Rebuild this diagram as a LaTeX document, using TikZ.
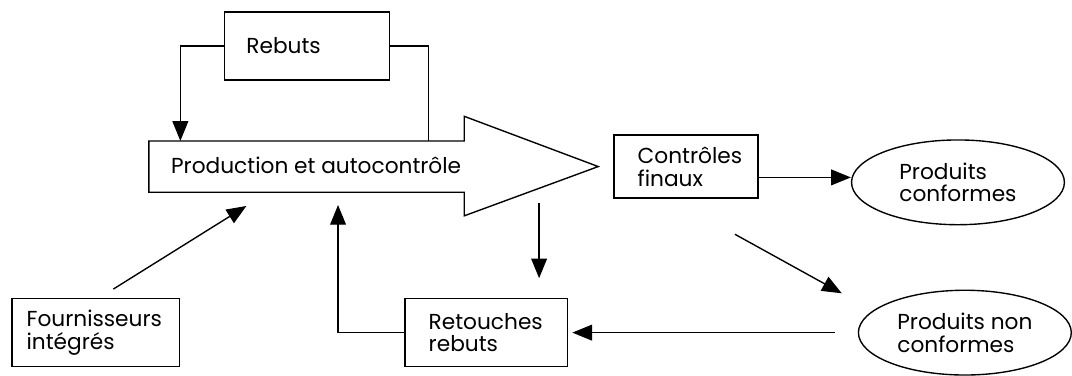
\documentclass[tikz,border=0pt]{standalone}
\usepackage{fontspec}
\setmainfont{Poppins}
\usetikzlibrary{arrows.meta,shapes.geometric}

\begin{document}
\begin{tikzpicture}[x=0.5pt, y=-0.5pt, line width=0.7pt,
    every node/.style={font=\fontsize{11}{11.5}\selectfont},
    boite/.style={draw, align=left, inner xsep=12pt, inner ysep=0pt, minimum height=34.5pt},
    bulle/.style={draw, ellipse, align=left, inner sep=0pt, minimum width=108pt, minimum height=43pt},
    fleche/.style={-{Triangle[length=10pt, width=8pt]}}]
  \path[fill=white] (0,0) rectangle (1072,376);
  % grande fleche de production
  \draw (151,143) -- (471,143) -- (471,118) -- (607,169) -- (471,219) -- (471,195) -- (151,195) -- cycle;
  \node[anchor=west, inner sep=0pt] (prod) at (173,168) {Production et autocontrôle};
  \coordinate (retourR) at (183,143);
  \coordinate (departR) at (435,143);
  \coordinate (entreeF) at (250,209);
  \coordinate (entreeT) at (343,208);
  \coordinate (sortieP) at (547,206);

  \node[boite, inner xsep=11pt, text width=61.5pt] (rebuts) at (311.5,46.5) {Rebuts};
  \node[boite, text width=49pt, minimum height=32pt] (controles) at (696,169) {Contrôles\\finaux};
  \node[boite, inner xsep=7.5pt, text width=70pt] (fourn) at (97,337.5) {Fournisseurs\\intégrés};
  \node[boite, text width=58.5pt] (retouches) at (493.5,337.5) {Retouches\\rebuts};
  \node[bulle] (conformes) at (972,185) {Produits\\conformes};
  \node[bulle] (nonconf) at (979,337.5) {Produits non\\conformes};

  \draw[fleche] (rebuts.west) -| (retourR);
  \draw (rebuts.east) -| (departR);
  \draw[fleche] ([shift={(18,-9)}]fourn.north) -- (entreeF);
  \draw[fleche] (retouches.west) -| (entreeT);
  \draw[fleche, shorten >=10pt] (sortieP) -- (sortieP |- retouches.north);
  \coordinate (c1) at ([yshift=-5.5pt]controles.east);
  \draw[fleche] (c1) -- (c1 -| conformes.west);
  \draw[fleche] ([shift={(-24,36)}]controles.south east) -- ([shift={(-48,-9)}]nonconf.north west);
  \draw[fleche] ([xshift=-11.5pt]nonconf.west) -- ([xshift=2pt]retouches.east);
\end{tikzpicture}
\end{document}
